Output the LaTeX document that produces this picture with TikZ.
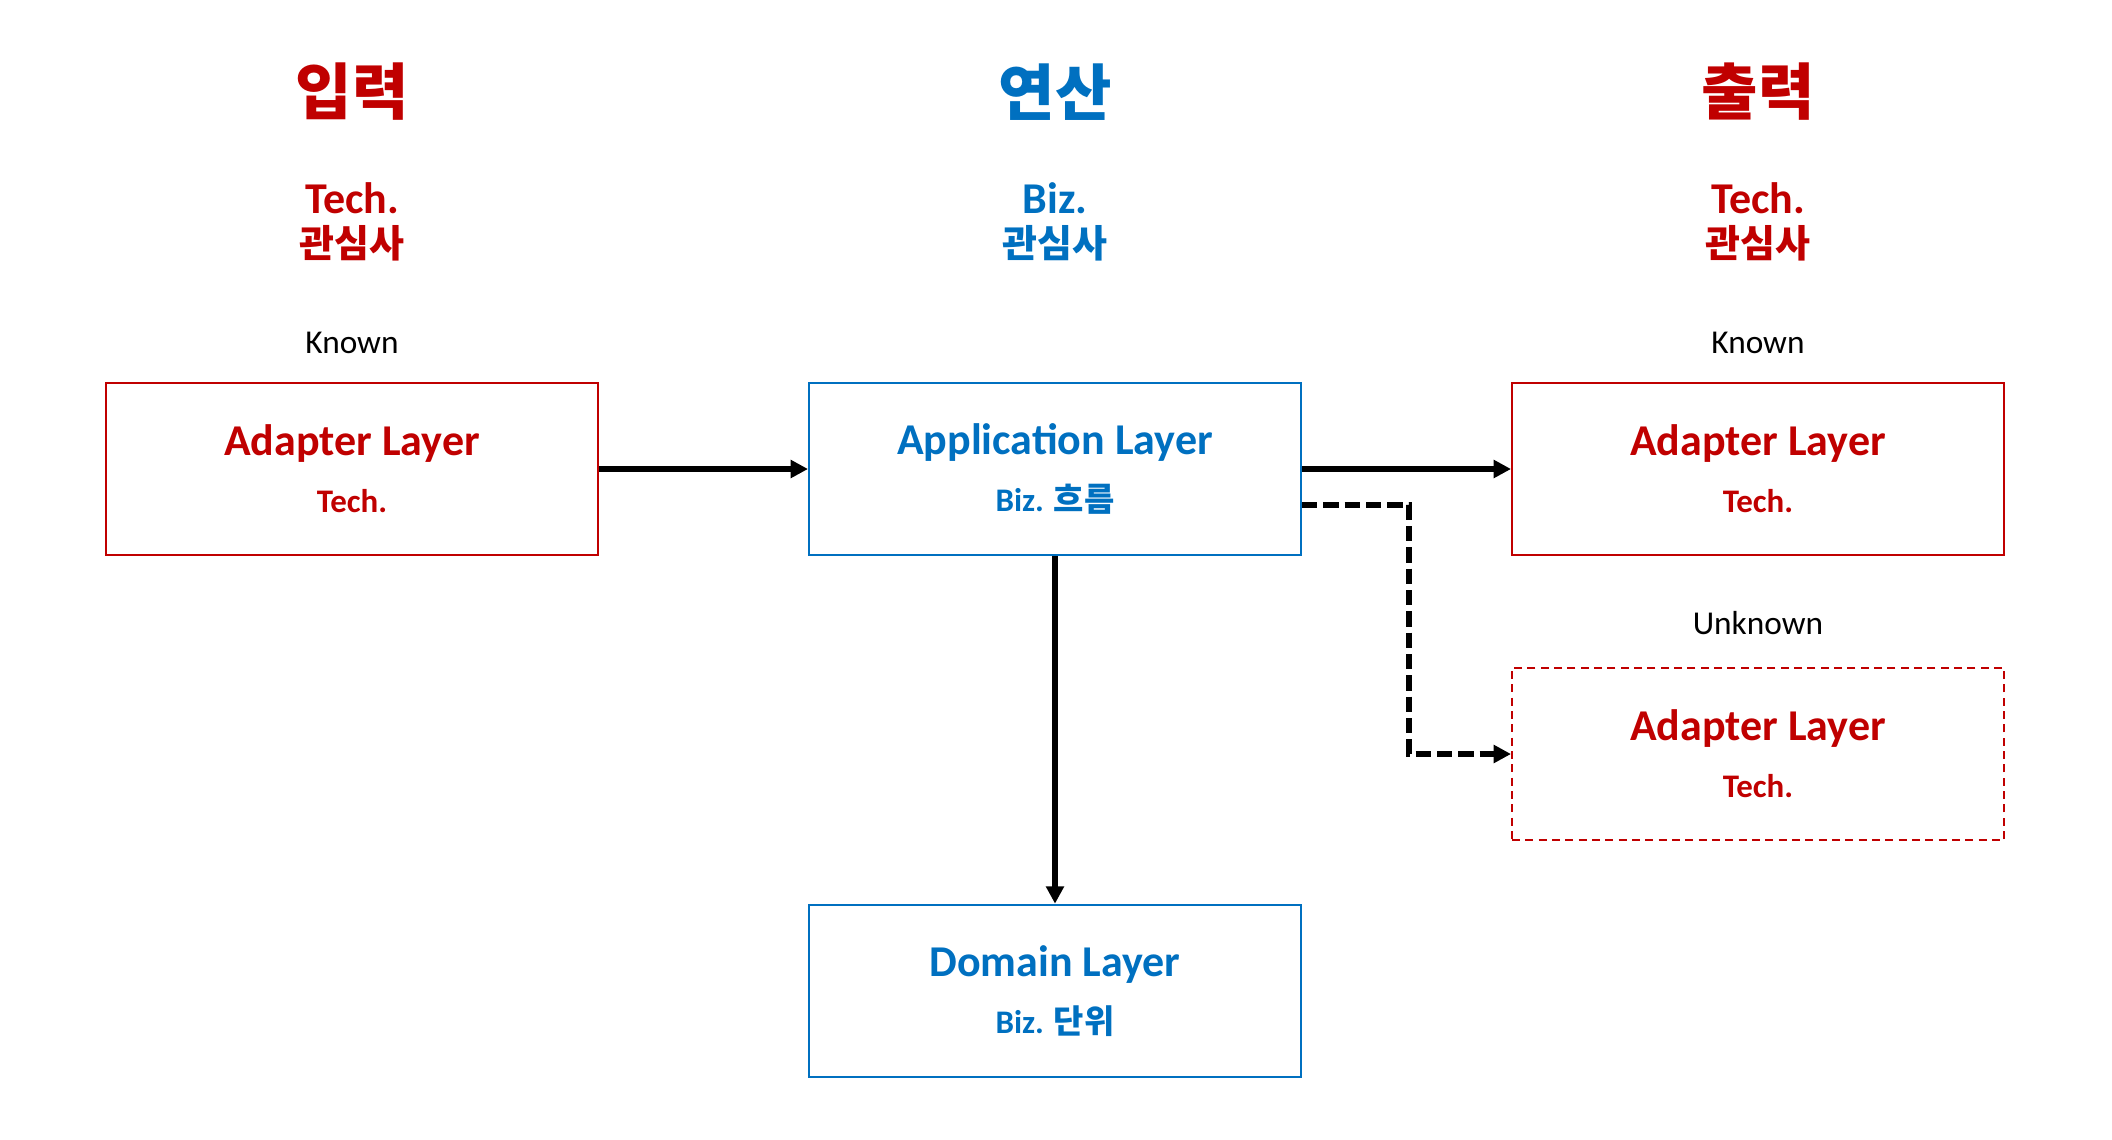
\documentclass[tikz,border=0pt]{standalone}
\usepackage{fontspec}
\setmainfont{Carlito}
\newfontfamily\krfont{Noto Sans CJK KR}
\usetikzlibrary{arrows.meta}

\definecolor{techred}{HTML}{C00000}
\definecolor{bizblue}{HTML}{0070C0}

\newcommand{\ttlfont}{\bfseries\fontsize{33}{43}\selectfont}
\newcommand{\subfont}{\bfseries\fontsize{24.7}{43}\selectfont}

\begin{document}
\begin{tikzpicture}[x=0.75pt,y=-0.75pt]
\tikzset{layer/.style = {shape=rectangle,draw,line width=1.5pt,minimum width=369pt,minimum height=129.5pt,inner sep=0pt,align=center,font=\fontsize{24.7}{43}\selectfont}}
\tikzset{techbox/.style = {layer,draw=techred,text=techred}}
\tikzset{bizbox/.style = {layer,draw=bizblue,text=bizblue}}
\tikzset{head/.style = {font=\krfont\bfseries\fontsize{46}{52}\selectfont}}
\tikzset{concern/.style = {font=\bfseries\fontsize{33}{38}\selectfont}}
\tikzset{krconcern/.style = {font=\krfont\bfseries\fontsize{28.5}{33}\selectfont}}
\tikzset{known/.style = {font=\fontsize{25}{30}\selectfont}}
\tikzset{flow/.style = {line width=4.2pt,-{Triangle[length=13pt,width=13pt]}}}
\useasboundingbox (0,0) rectangle (2112,1139);
% headers
\node[head,text=techred] (hin) at (352,92) {입력};
\node[head,text=bizblue] (hop) at (1055,92) {연산};
\node[head,text=techred] (hout) at (1758,92) {출력};
% concerns
\node[concern,text=techred] (cin) at (352,198) {Tech.};
\node[krconcern,text=techred] (cin2) at (352,243) {관심사};
\node[concern,text=bizblue] (cop) at (1055,198) {Biz.};
\node[krconcern,text=bizblue] (cop2) at (1055,243) {관심사};
\node[concern,text=techred] (cout) at (1758,198) {Tech.};
\node[krconcern,text=techred] (cout2) at (1758,243) {관심사};
% known / unknown
\node[known] (kin) at (352,343) {Known};
\node[known] (kout) at (1758,343) {Known};
\node[known] (uout) at (1758,623) {Unknown};
% layers
\node[techbox] (in) at (352,469) {\ttlfont Adapter Layer\\ \subfont Tech.};
\node[bizbox] (app) at (1055,469) {\ttlfont Application Layer\\ \subfont Biz. {\krfont 흐름}};
\node[techbox] (out) at (1758,469) {\ttlfont Adapter Layer\\ \subfont Tech.};
\node[techbox,dash pattern=on 6pt off 4pt] (outx) at (1758,754) {\ttlfont Adapter Layer\\ \subfont Tech.};
\node[bizbox] (dom) at (1055,991) {\ttlfont Domain Layer\\ \subfont Biz. {\krfont 단위}};
% edges
\draw[flow] (in) -- (app);
\draw[flow] (app) -- (out);
\draw[flow] (app) -- (dom);
\draw[flow,dash pattern=on 11.5pt off 4.5pt] ([yshift=-27pt]app.east) -- ++(107,0) |- (outx.west);
\end{tikzpicture}
\end{document}
